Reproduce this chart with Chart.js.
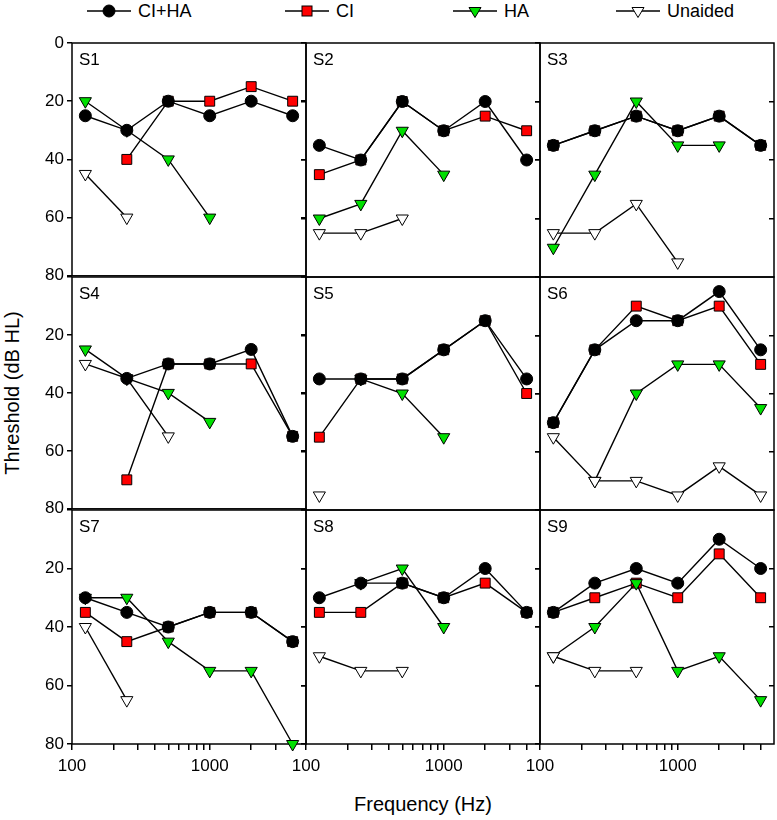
<!DOCTYPE html>
<html>
<head>
<meta charset="utf-8">
<script src="https://cdn.jsdelivr.net/npm/chart.js"></script>
<style>
  body { margin: 0; background: #fff; font-family: 'Liberation Sans', Arial, sans-serif; color: #000; }
  #wrap { position: relative; width: 777px; height: 820px; overflow: hidden; }
  #wrap canvas { position: absolute; }
  .item { position: absolute; top: 2px; height: 18px; font-size: 18px; line-height: 18px; white-space: nowrap; }
  .item svg { position: absolute; left: 0; top: 1px; }
  .item span { position: absolute; left: 51px; top: 0; }
  #xtitle { position: absolute; left: 72px; width: 702px; top: 793px; text-align: center; font-size: 20px; }
  #ytitle { position: absolute; left: 12px; top: 393px; font-size: 20px; white-space: nowrap;
            transform: translate(-50%, -50%) rotate(-90deg); }
</style>
</head>
<body>
<div id="wrap">
  <div id="legend"></div>
  <div id="ytitle">Threshold (dB HL)</div>
  <div id="xtitle">Frequency (Hz)</div>
</div>
<script>
// test frequencies and panel names
const FREQS = [125, 250, 500, 1000, 2000, 4000];
const SUBJECTS = ['S1', 'S2', 'S3', 'S4', 'S5', 'S6', 'S7', 'S8', 'S9'];
const X_TICKS = [100, 200, 300, 400, 500, 600, 700, 800, 900, 1000, 2000, 3000, 4000];
const X_LABELS = [100, 1000];
const Y_TICKS = [0, 20, 40, 60, 80];

// thresholds in dB HL, one row per subject (null = not measured)
const ciHa = [
  [25, 30, 20, 25, 20, 25],
  [35, 40, 20, 30, 20, 40],
  [35, 30, 25, 30, 25, 35],
  [null, 35, 30, 30, 25, 55],
  [35, 35, 35, 25, 15, 35],
  [50, 25, 15, 15, 5, 25],
  [30, 35, 40, 35, 35, 45],
  [30, 25, 25, 30, 20, 35],
  [35, 25, 20, 25, 10, 20]
];
const ci = [
  [null, 40, 20, 20, 15, 20],
  [45, 40, 20, 30, 25, 30],
  [35, 30, 25, 30, 25, 35],
  [null, 70, 30, 30, 30, 55],
  [55, 35, 35, 25, 15, 40],
  [50, 25, 10, 15, 10, 30],
  [35, 45, 40, 35, 35, 45],
  [35, 35, 25, 30, 25, 35],
  [35, 30, 25, 30, 15, 30]
];
const ha = [
  [20, 30, 40, 60, null, null],
  [60, 55, 30, 45, null, null],
  [70, 45, 20, 35, 35, null],
  [25, 35, 40, 50, null, null],
  [null, 35, 40, 55, null, null],
  [null, 70, 40, 30, 30, 45],
  [30, 30, 45, 55, 55, 80],
  [null, 25, 20, 40, null, null],
  [50, 40, 25, 55, 50, 65]
];
const unaided = [
  [45, 60, null, null, null, null],
  [65, 65, 60, null, null, null],
  [65, 65, 55, 75, null, null],
  [30, 35, 55, null, null, null],
  [75, null, null, null, null, null],
  [55, 70, 70, 75, 65, 75],
  [40, 65, null, null, null, null],
  [50, 55, 55, null, null, null],
  [50, 55, 55, null, null, null]
];

// panel layout (page pixels)
const COL_X = [72, 306, 540];
const ROW_Y = [43, 277, 510];
const ROW_H = [234, 233, 234];
const PANEL_W = 234;
const X_MAX = 5000;
const FONT = "'Liberation Sans', Arial, sans-serif";

// order: lower number is drawn on top
const series = [
  { label: 'CI+HA', data: ciHa, style: 'circle', radius: 6, rotation: 0, fill: '#000000', order: 0 },
  { label: 'CI', data: ci, style: 'rect', radius: 7, rotation: 0, fill: '#ff0000', order: 3 },
  { label: 'HA', data: ha, style: 'triangle', radius: 7, rotation: 180, fill: '#00e000', order: 2 },
  { label: 'Unaided', data: unaided, style: 'triangle', radius: 7, rotation: 180, fill: '#ffffff', order: 1 }
];

Chart.defaults.font.family = FONT;
Chart.defaults.color = '#000';

// frame round each panel + the subject label in its corner
const panelFrame = {
  id: 'panelFrame',
  beforeDatasetsDraw(chart) {
    const { ctx, chartArea: a } = chart;
    ctx.save();
    ctx.strokeStyle = '#000';
    ctx.lineWidth = 1.5;
    ctx.strokeRect(a.left, a.top, a.right - a.left, a.bottom - a.top);
    ctx.restore();
  },
  afterDraw(chart, args, opts) {
    const { ctx, chartArea: a } = chart;
    ctx.save();
    ctx.fillStyle = '#000';
    ctx.font = '17px ' + FONT;
    ctx.textBaseline = 'middle';
    ctx.fillText(opts.text, a.left + 7, a.top + 17);
    ctx.restore();
  }
};

const wrap = document.getElementById('wrap');

SUBJECTS.forEach((name, i) => {
  const row = Math.floor(i / 3);
  const col = i % 3;
  const bottomRow = row === 2;
  const L = 40, T = 14, R = 8;
  const B = bottomRow ? 50 : 12;
  const h = ROW_H[row];

  const canvas = document.createElement('canvas');
  canvas.width = L + PANEL_W + R;
  canvas.height = T + h + B;
  canvas.style.left = (COL_X[col] - L) + 'px';
  canvas.style.top = (ROW_Y[row] - T) + 'px';
  wrap.appendChild(canvas);

  const datasets = series.map(s => ({
    label: s.label,
    data: FREQS.map((f, k) => ({ x: f, y: s.data[i][k] })).filter(p => p.y !== null),
    borderColor: '#000',
    borderWidth: 1.4,
    pointStyle: s.style,
    pointRadius: s.radius,
    pointRotation: s.rotation,
    pointBackgroundColor: s.fill,
    pointBorderColor: '#000',
    pointBorderWidth: 1,
    tension: 0,
    clip: false,
    order: s.order
  }));

  new Chart(canvas, {
    type: 'line',
    data: { datasets },
    options: {
      responsive: false,
      animation: false,
      devicePixelRatio: 1,
      layout: { padding: { top: T, right: R, left: 0, bottom: 0 } },
      plugins: {
        legend: { display: false },
        tooltip: { enabled: false },
        panelFrame: { text: name }
      },
      scales: {
        x: {
          type: 'logarithmic',
          min: 100,
          max: X_MAX,
          afterBuildTicks: s => { s.ticks = X_TICKS.map(v => ({ value: v })); },
          afterFit: s => { s.height = B; },
          ticks: {
            display: bottomRow,
            autoSkip: false,
            maxRotation: 0,
            padding: 6,
            font: { size: 17 },
            callback: v => X_LABELS.includes(v) ? String(v) : ''
          },
          grid: { drawOnChartArea: false, drawTicks: bottomRow, tickLength: 6, color: '#000', lineWidth: 1.5 },
          border: { display: false }
        },
        y: {
          type: 'linear',
          reverse: true,
          min: 0,
          max: 80,
          afterBuildTicks: s => { s.ticks = Y_TICKS.map(v => ({ value: v })); },
          afterFit: s => { s.width = L; },
          ticks: {
            display: col === 0,
            padding: 3,
            font: { size: 17 },
            callback: v => (row > 0 && v === 0) ? '' : String(v)
          },
          grid: { drawOnChartArea: false, tickLength: 5, color: '#000', lineWidth: 1.5 },
          border: { display: false }
        },
        yr: {
          type: 'linear',
          position: 'right',
          reverse: true,
          min: 0,
          max: 80,
          afterBuildTicks: s => { s.ticks = Y_TICKS.slice(1, 4).map(v => ({ value: v })); },
          afterFit: s => { s.width = 0; },
          ticks: { display: false },
          grid: { drawOnChartArea: false, tickLength: -5, color: '#000', lineWidth: 1.5 },
          border: { display: false }
        }
      }
    },
    plugins: [panelFrame]
  });
});

// legend across the top
const legendPos = [87, 285, 453, 616];
const marker = {
  'CI+HA': '<circle cx="22" cy="8" r="6" fill="#000" stroke="#000"/>',
  'CI': '<rect x="17" y="3" width="10" height="10" fill="#ff0000" stroke="#000"/>',
  'HA': '<polygon points="16,4.5 28,4.5 22,14.5" fill="#00e000" stroke="#000"/>',
  'Unaided': '<polygon points="16,4.5 28,4.5 22,14.5" fill="#fff" stroke="#000"/>'
};
const legend = document.getElementById('legend');
['CI+HA', 'CI', 'HA', 'Unaided'].forEach((label, k) => {
  const div = document.createElement('div');
  div.className = 'item';
  div.style.left = legendPos[k] + 'px';
  div.innerHTML = '<svg width="44" height="17"><line x1="0" y1="8" x2="44" y2="8" stroke="#000" stroke-width="1.4"/>' +
    marker[label] + '</svg><span>' + label + '</span>';
  legend.appendChild(div);
});
</script>
</body>
</html>
